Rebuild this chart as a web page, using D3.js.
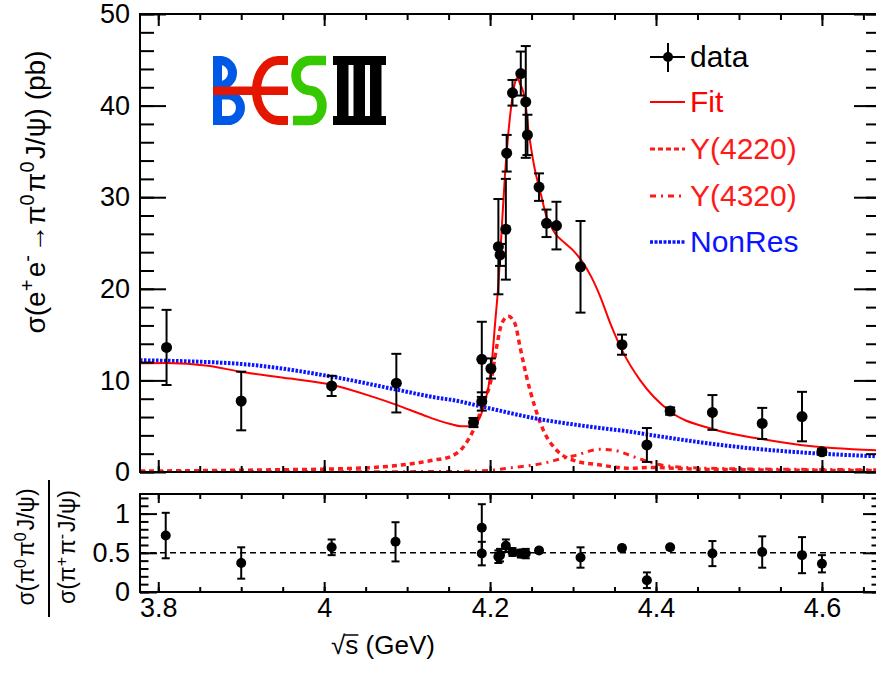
<!DOCTYPE html>
<html>
<head>
<meta charset="utf-8">
<script src="https://cdn.jsdelivr.net/npm/d3@7"></script>
<style>
  html, body { margin: 0; padding: 0; background: #fff; }
  svg { display: block; }
  text { font-family: "Liberation Sans", Arial, Helvetica, sans-serif; fill: #000; }
</style>
</head>
<body>
<svg id="chart" width="876" height="675"></svg>
<script>
// ---------- axis ticks ----------
const xTicks = [3.8, 4.0, 4.2, 4.4, 4.6];
const xTickLabels = ["3.8", "4", "4.2", "4.4", "4.6"];
const yTopTicks = [0, 10, 20, 30, 40, 50];
const yTopTickLabels = ["0", "10", "20", "30", "40", "50"];
const yBotTicks = [0, 0.5, 1];
const yBotTickLabels = ["0", "0.5", "1"];

// ---------- measured cross section sigma(e+e- -> pi0 pi0 J/psi) [pb] ----------
const energy  = [3.810, 3.900, 4.009, 4.087, 4.180, 4.190, 4.190, 4.201, 4.210, 4.212, 4.219, 4.220, 4.227, 4.237, 4.243, 4.245, 4.259, 4.268, 4.280, 4.309, 4.359, 4.389, 4.417, 4.468, 4.528, 4.576, 4.600];
const xsec    = [13.6,  7.75,  9.4,   9.7,   5.4,   12.3,  7.7,   11.3,  24.6,  23.7,  26.5,  34.8,  41.4,  43.5,  40.4,  36.8,  31.1,  27.15, 26.9,  22.4,  13.9,  2.95,  6.65,  6.5,   5.3,   6.05,  2.2];
const xsecErr = [4.1,   3.2,   1.1,   3.2,   0.5,   4.1,   1.0,   1.1,   5.2,   1.2,   5.5,   2.0,   1.4,   2.4,   6.1,   2.2,   1.5,   1.5,   2.6,   5.0,   1.1,   1.85,  0.4,   1.9,   1.7,   2.7,   0.3];

// ---------- fit components ----------
const fitE = [3.778, 3.810, 3.860, 3.899, 3.959, 4.010, 4.059, 4.088, 4.120, 4.140, 4.152, 4.165, 4.175, 4.182, 4.188, 4.192, 4.198, 4.202, 4.206, 4.210, 4.214, 4.218, 4.222, 4.226, 4.230, 4.233, 4.236, 4.240, 4.243, 4.246, 4.248, 4.254, 4.260, 4.268, 4.278, 4.290, 4.300, 4.310, 4.322, 4.333, 4.345, 4.361, 4.381, 4.417, 4.465, 4.529, 4.574, 4.670];
const fitV = [11.87, 11.9,  11.6,  10.95, 10.2,  9.5,   8.2,   7.3,   6.2,   5.55,  5.25,  5.0,   5.0,   5.25,  6.0,   7.1,   9.3,   11.9,  16.2,  20.5,  26.5,  32.5,  37.0,  40.3,  42.5,  43.0,  42.4,  41.5,  40.0,  37.5,  36.2,  33.0,  30.8,  27.9,  26.1,  25.0,  24.2,  23.1,  21.3,  19.1,  16.2,  12.95, 10.0,  6.6,   4.77,  3.57,  2.95,  2.35];

const y4220E = [3.778, 3.950, 4.019, 4.092, 4.132, 4.152, 4.168, 4.180, 4.192, 4.202, 4.208, 4.214, 4.222, 4.230, 4.236, 4.244, 4.254, 4.264, 4.280, 4.300, 4.333, 4.369, 4.393, 4.453, 4.670];
const y4220V = [0.1,   0.25,  0.35,  0.75,  1.3,   1.67,  2.76,  4.6,   7.5,   10.4,  13.7,  16.2,  17.0,  16.2,  13.7,  10.4,  7.1,   4.6,   2.4,   1.3,   0.76,  0.4,   0.5,   0.3,   0.15];

const y4320E = [3.778, 4.000, 4.152, 4.202, 4.224, 4.252, 4.264, 4.292, 4.300, 4.333, 4.348, 4.373, 4.397, 4.433, 4.500, 4.670];
const y4320V = [0.02,  0.03,  0.05,  0.2,   0.45,  0.76,  0.95,  1.6,   1.75,  2.48,  2.4,   1.67,  0.95,  0.5,   0.35,  0.25];

const nonResE = [3.778, 3.899, 4.010, 4.087, 4.140, 4.152, 4.192, 4.252, 4.333, 4.369, 4.393, 4.453, 4.513, 4.573, 4.670];
const nonResV = [12.2,  11.8,  10.4,  9.0,   8.05,  7.9,   7.1,   5.9,   4.8,   4.4,   4.05,  3.25,  2.6,   2.15,  1.7];

// ---------- ratio sigma(pi0 pi0 J/psi) / sigma(pi+ pi- J/psi) ----------
const ratioE   = [3.809, 3.900, 4.009, 4.086, 4.190, 4.190, 4.210, 4.212, 4.219, 4.227, 4.237, 4.243, 4.259, 4.309, 4.359, 4.389, 4.417, 4.468, 4.528, 4.576, 4.600];
const ratio    = [0.72,  0.37,  0.57,  0.64,  0.82,  0.49,  0.45,  0.47,  0.59,  0.51,  0.49,  0.49,  0.53,  0.44,  0.56,  0.15,  0.57,  0.49,  0.51,  0.47,  0.36];
const ratioErr = [0.29,  0.2,   0.1,   0.25,  0.3,   0.15,  0.08,  0.08,  0.08,  0.05,  0.05,  0.06,  0.03,  0.13,  0.03,  0.1,   0.03,  0.16,  0.2,   0.23,  0.11];
const ratioRef = 0.5;

const legendLabels = ["data", "Fit", "Y(4220)", "Y(4320)", "NonRes"];

// ---------- layout ----------
const svg = d3.select("#chart");
const L = 140, R = 880, T1 = 14, B1 = 472, T2 = 494, B2 = 592;
const FONT = 27;

const x = d3.scaleLinear().domain([3.778, 4.67]).range([L, R]);
const yTop = d3.scaleLinear().domain([0, 50]).range([B1, T1]);
const yBot = d3.scaleLinear().domain([0, 1.25]).range([B2, T2]);

const xMinor = d3.range(3.8, 4.66, 0.05);
const yTopMinor = d3.range(0, 50.1, 2);
const yBotMinor = d3.range(0, 1.21, 0.1);

const defs = svg.append("defs");
defs.append("clipPath").attr("id", "clipTop")
  .append("rect").attr("x", L).attr("y", T1).attr("width", R - L).attr("height", B1 - T1);
defs.append("clipPath").attr("id", "clipBot")
  .append("rect").attr("x", L).attr("y", T2).attr("width", R - L).attr("height", B2 - T2);

function styleAxis(g) {
  g.select(".domain").remove();
  g.selectAll(".tick line").attr("stroke", "#000").attr("stroke-width", 2);
  g.selectAll(".tick text").attr("font-size", FONT).attr("fill", "#000")
    .attr("font-family", "'Liberation Sans', Arial, sans-serif");
}
function addAxis(axis, tx, ty) {
  svg.append("g").attr("transform", `translate(${tx},${ty})`).call(axis).call(styleAxis);
}

// ---------- top panel: curves ----------
const lineTop = (xs, vs) => d3.line()
  .x((d, i) => x(xs[i])).y((d, i) => yTop(vs[i]))
  .curve(d3.curveMonotoneX)(xs);

const gTop = svg.append("g").attr("clip-path", "url(#clipTop)");

gTop.append("path").attr("d", lineTop(y4320E, y4320V))
  .attr("fill", "none").attr("stroke", "#ff1a1a").attr("stroke-width", 3)
  .attr("stroke-dasharray", "6,5,2,5");
gTop.append("path").attr("d", lineTop(y4220E, y4220V))
  .attr("fill", "none").attr("stroke", "#ff1a1a").attr("stroke-width", 3.5)
  .attr("stroke-dasharray", "5,4");
gTop.append("path").attr("d", lineTop(nonResE, nonResV))
  .attr("fill", "none").attr("stroke", "#0a14ff").attr("stroke-width", 4)
  .attr("stroke-dasharray", "2.5,1.5");
gTop.append("path").attr("d", lineTop(fitE, fitV))
  .attr("fill", "none").attr("stroke", "#ff0000").attr("stroke-width", 2);

// ---------- data points with error bars ----------
function drawPoints(g, xs, vs, es, yScale, r, cap) {
  const pts = xs.map((e, i) => ({ e, v: vs[i], err: es[i] }));
  const grp = g.selectAll("g.pt").data(pts).join("g").attr("class", "pt");
  grp.append("line")
    .attr("x1", d => x(d.e)).attr("x2", d => x(d.e))
    .attr("y1", d => yScale(d.v - d.err)).attr("y2", d => yScale(d.v + d.err))
    .attr("stroke", "#000").attr("stroke-width", 2);
  ["lo", "hi"].forEach(s => {
    grp.append("line")
      .attr("x1", d => x(d.e) - cap).attr("x2", d => x(d.e) + cap)
      .attr("y1", d => yScale(s === "lo" ? d.v - d.err : d.v + d.err))
      .attr("y2", d => yScale(s === "lo" ? d.v - d.err : d.v + d.err))
      .attr("stroke", "#000").attr("stroke-width", 2);
  });
  grp.append("circle")
    .attr("cx", d => x(d.e)).attr("cy", d => yScale(d.v)).attr("r", r)
    .attr("fill", "#000");
}
drawPoints(gTop, energy, xsec, xsecErr, yTop, 5.5, 5);

// ---------- top panel: frame and axes ----------
svg.append("rect").attr("x", L).attr("y", T1).attr("width", R - L).attr("height", B1 - T1)
  .attr("fill", "none").attr("stroke", "#000").attr("stroke-width", 2);

addAxis(d3.axisBottom(x).tickValues(xTicks).tickSize(-12).tickFormat(""), 0, B1);
addAxis(d3.axisBottom(x).tickValues(xMinor).tickSize(-6).tickFormat(""), 0, B1);
addAxis(d3.axisTop(x).tickValues(xTicks).tickSize(-12).tickFormat(""), 0, T1);
addAxis(d3.axisTop(x).tickValues(xMinor).tickSize(-6).tickFormat(""), 0, T1);
addAxis(d3.axisLeft(yTop).tickValues(yTopMinor).tickSize(-14).tickFormat(""), L, 0);
addAxis(d3.axisLeft(yTop).tickValues(yTopTicks).tickSize(-26).tickPadding(10)
  .tickFormat((d, i) => yTopTickLabels[i]), L, 0);
addAxis(d3.axisRight(yTop).tickValues(yTopMinor).tickSize(-14).tickFormat(""), R, 0);
addAxis(d3.axisRight(yTop).tickValues(yTopTicks).tickSize(-26).tickFormat(""), R, 0);

// ---------- bottom panel ----------
const gBot = svg.append("g").attr("clip-path", "url(#clipBot)");
gBot.append("line")
  .attr("x1", L).attr("x2", R).attr("y1", yBot(ratioRef)).attr("y2", yBot(ratioRef))
  .attr("stroke", "#000").attr("stroke-width", 1.6).attr("stroke-dasharray", "6,4");
drawPoints(gBot, ratioE, ratio, ratioErr, yBot, 5, 4);

svg.append("rect").attr("x", L).attr("y", T2).attr("width", R - L).attr("height", B2 - T2)
  .attr("fill", "none").attr("stroke", "#000").attr("stroke-width", 2);

addAxis(d3.axisBottom(x).tickValues(xMinor).tickSize(-5).tickFormat(""), 0, B2);
addAxis(d3.axisBottom(x).tickValues(xTicks).tickSize(-10).tickPadding(6)
  .tickFormat((d, i) => xTickLabels[i]), 0, B2);
addAxis(d3.axisTop(x).tickValues(xMinor).tickSize(-5).tickFormat(""), 0, T2);
addAxis(d3.axisTop(x).tickValues(xTicks).tickSize(-9).tickFormat(""), 0, T2);
addAxis(d3.axisLeft(yBot).tickValues(yBotMinor).tickSize(-8.5).tickFormat(""), L, 0);
addAxis(d3.axisLeft(yBot).tickValues(yBotTicks).tickSize(-17).tickPadding(10)
  .tickFormat((d, i) => yBotTickLabels[i]), L, 0);
addAxis(d3.axisRight(yBot).tickValues(yBotMinor).tickSize(-8.5).tickFormat(""), R, 0);
addAxis(d3.axisRight(yBot).tickValues(yBotTicks).tickSize(-17).tickFormat(""), R, 0);

// ---------- axis titles ----------
function sup(t, txt, size) {
  t.append("tspan").attr("font-size", size).attr("dy", -0.42 * FONT).text(txt);
  t.append("tspan").attr("dy", 0.42 * FONT).text("\u200A");
}
const yTitle = svg.append("text")
  .attr("transform", "translate(45,192) rotate(-90)")
  .attr("text-anchor", "middle").attr("font-size", 28);
yTitle.append("tspan").text("\u03C3(e");
sup(yTitle, "+", 20);
yTitle.append("tspan").text("e");
sup(yTitle, "-", 20);
yTitle.append("tspan").text("\u2192\u03C0");
sup(yTitle, "0", 20);
yTitle.append("tspan").text("\u03C0");
sup(yTitle, "0", 20);
yTitle.append("tspan").text("J/\u03C8)  (pb)");

function ratioText(tx, parts) {
  const t = svg.append("text")
    .attr("transform", `translate(${tx},547) rotate(-90)`)
    .attr("text-anchor", "middle").attr("font-size", 23);
  parts.forEach(p => {
    if (p.s) {
      t.append("tspan").attr("font-size", 16).attr("dy", -8).text(p.s);
      t.append("tspan").attr("dy", 8).text("\u200A");
    } else {
      t.append("tspan").text(p.t);
    }
  });
}
ratioText(34, [{ t: "\u03C3(\u03C0" }, { s: "0" }, { t: "\u03C0" }, { s: "0" }, { t: "J/\u03C8)" }]);
ratioText(75, [{ t: "\u03C3(\u03C0" }, { s: "+" }, { t: "\u03C0" }, { s: "-" }, { t: "J/\u03C8)" }]);
svg.append("line").attr("x1", 49).attr("x2", 49).attr("y1", 480).attr("y2", 617)
  .attr("stroke", "#000").attr("stroke-width", 2);

const xTitle = svg.append("text").attr("x", 383).attr("y", 654)
  .attr("text-anchor", "middle").attr("font-size", 26);
xTitle.append("tspan").text("\u221A");
xTitle.append("tspan").text("s (GeV)");
{
  const node = xTitle.node();
  const sx1 = node.getEndPositionOfChar(1).x;
  const rx = node.getEndPositionOfChar(0).x;
  svg.append("line").attr("x1", rx - 1).attr("x2", sx1).attr("y1", 635).attr("y2", 635)
    .attr("stroke", "#000").attr("stroke-width", 1.5);
}

// ---------- legend ----------
const legendY = [57, 102, 149, 196, 242];
const legendColor = ["#000", "#ff0000", "#ff1a1a", "#ff1a1a", "#0a14ff"];
const legendDash = [null, null, "5,3", "6,5,2,5", "3,1.5"];
const legendWidth = [2, 2, 3, 3, 3.5];
const lg = svg.append("g");
legendLabels.forEach((lab, i) => {
  const yy = legendY[i];
  lg.append("line").attr("x1", 650).attr("x2", 685).attr("y1", yy).attr("y2", yy)
    .attr("stroke", legendColor[i]).attr("stroke-width", legendWidth[i])
    .attr("stroke-dasharray", legendDash[i]);
  if (i === 0) {
    lg.append("line").attr("x1", 668).attr("x2", 668).attr("y1", yy - 14).attr("y2", yy + 15)
      .attr("stroke", "#000").attr("stroke-width", 2);
    lg.append("circle").attr("cx", 668).attr("cy", yy).attr("r", 5).attr("fill", "#000");
  }
  lg.append("text").attr("x", 690).attr("y", yy + 10).attr("font-size", 30)
    .style("fill", legendColor[i]).text(lab);
});

// ---------- BESIII logo ----------
const logo = svg.append("g").attr("aria-label", "BESIII");
logo.append("title").text("BESIII");
const blue = "#0058e6", red = "#e51600", green = "#36c800";
logo.append("rect").attr("x", 213).attr("y", 56).attr("width", 9).attr("height", 69).attr("fill", blue);
logo.append("path").attr("d", "M213,60.5 H220 A12.5,12.5 0 0 1 220,85.5 H213")
  .attr("fill", "none").attr("stroke", blue).attr("stroke-width", 9);
logo.append("path").attr("d", "M213,95 H230 A13,13 0 0 1 230,120.5 H213")
  .attr("fill", "none").attr("stroke", blue).attr("stroke-width", 9);
logo.append("path").attr("d", "M288,60.5 H278 A21.5,30 0 0 0 278,120.5 H288")
  .attr("fill", "none").attr("stroke", red).attr("stroke-width", 9);
logo.append("rect").attr("x", 213).attr("y", 86.5).attr("width", 75).attr("height", 8.5).attr("fill", red);
logo.append("path").attr("d", "M326,60.5 H310 A14,15 0 0 0 310,90.5 A12,15 0 0 1 310,120.5 H293")
  .attr("fill", "none").attr("stroke", green).attr("stroke-width", 9.5);
logo.append("rect").attr("x", 333).attr("y", 56).attr("width", 53).attr("height", 9).attr("fill", "#000");
logo.append("rect").attr("x", 333).attr("y", 116).attr("width", 53).attr("height", 9).attr("fill", "#000");
[337, 353.5, 370].forEach(bx =>
  logo.append("rect").attr("x", bx).attr("y", 60).attr("width", 11.5).attr("height", 60).attr("fill", "#000"));
</script>
</body>
</html>
